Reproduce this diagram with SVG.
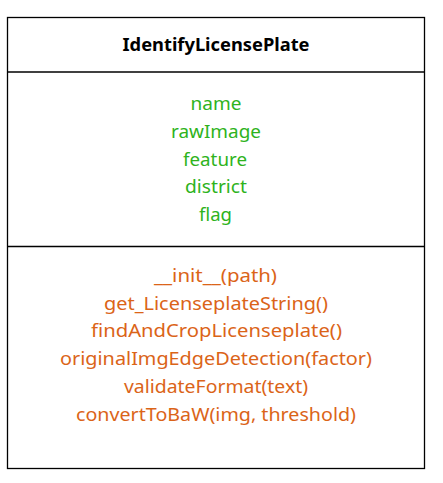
<svg xmlns="http://www.w3.org/2000/svg" width="443" height="483" viewBox="0 0 443 483">
<style>
.box{fill:#fff;stroke:#000;stroke-width:1.3}
.div{stroke:#000;stroke-width:1.3}
text{font-family:"Noto Sans","Open Sans",sans-serif;font-size:18.5px;text-anchor:middle}
.title{font-weight:bold;fill:#000;font-size:18px}
.attr{fill:#2eb31c}
.meth{fill:#db6418}
</style>
<rect width="443" height="483" fill="#fff"/>
<g id="IdentifyLicensePlate">
<rect class="box" x="7.5" y="17.5" width="417" height="451"/>
<line class="div" x1="7.5" y1="72" x2="424.5" y2="72"/>
<line class="div" x1="7.5" y1="246.5" x2="424.5" y2="246.5"/>
<text class="title" x="216" y="51" textLength="187" lengthAdjust="spacingAndGlyphs">IdentifyLicensePlate</text>
<text class="attr" x="216" y="110" textLength="51" lengthAdjust="spacingAndGlyphs">name</text>
<text class="attr" x="216" y="137.8" textLength="90" lengthAdjust="spacingAndGlyphs">rawImage</text>
<text class="attr" x="215" y="165.6" textLength="64" lengthAdjust="spacingAndGlyphs">feature</text>
<text class="attr" x="216" y="193.4" textLength="62" lengthAdjust="spacingAndGlyphs">district</text>
<text class="attr" x="215.5" y="221.2" textLength="33" lengthAdjust="spacingAndGlyphs">flag</text>
<text class="meth" x="215.5" y="281.8" textLength="123" lengthAdjust="spacingAndGlyphs">__init__(path)</text>
<text class="meth" x="216" y="309.6" textLength="224" lengthAdjust="spacingAndGlyphs">get_LicenseplateString()</text>
<text class="meth" x="216.5" y="337.4" textLength="251" lengthAdjust="spacingAndGlyphs">findAndCropLicenseplate()</text>
<text class="meth" x="216" y="365.2" textLength="312" lengthAdjust="spacingAndGlyphs">originalImgEdgeDetection(factor)</text>
<text class="meth" x="216" y="393" textLength="184" lengthAdjust="spacingAndGlyphs">validateFormat(text)</text>
<text class="meth" x="216" y="420.8" textLength="280" lengthAdjust="spacingAndGlyphs">convertToBaW(img, threshold)</text>
</g>
<g id="connectors"/>
</svg>
